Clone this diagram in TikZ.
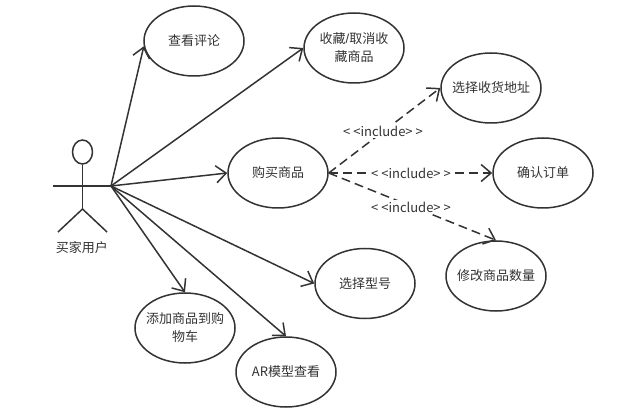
\documentclass[tikz,border=0pt]{standalone}
\usepackage{fontspec}
\setmainfont{Noto Sans CJK SC}
\newfontfamily\slashfont{Liberation Sans}
\usetikzlibrary{shapes.geometric,arrows.meta}
\definecolor{ink}{HTML}{333333}
\tikzset{
  usecase/.style={ellipse,draw=ink,line width=1.5pt,minimum width=100pt,minimum height=70pt,inner sep=-8pt,align=center,font=\fontsize{13}{18}\selectfont,text=ink},
  assoc/.style={draw=ink,line width=1.5pt,-{Straight Barb[length=10pt,width=17pt,line width=1.5pt]}},
  dep/.style={assoc,dash pattern=on 9pt off 5pt},
  inc/.style={fill=white,inner sep=1.5pt,font=\fontsize{13}{15}\selectfont,text=ink},
  limb/.style={draw=ink,line width=1.5pt},
  actorlabel/.style={font=\fontsize{13}{15}\selectfont,text=ink}
}
\newcommand{\incl}{<\kern3pt<include>\kern3pt>}
\begin{document}
\begin{tikzpicture}[x=1pt,y=-1pt]
\useasboundingbox (0,0) rectangle (627,414);
\node[usecase] (view) at (194,41) {查看评论};
\node[usecase] (fav) at (354,48) {收藏{\slashfont /}取消收\\藏商品};
\node[usecase] (addr) at (491,88) {选择收货地址};
\node[usecase] (buy) at (278,173) {购买商品};
\node[usecase] (confirm) at (543,173) {确认订单};
\node[usecase] (qty) at (496,276) {修改商品数量};
\node[usecase] (model) at (365,283.5) {选择型号};
\node[usecase] (cart) at (185,328) {添加商品到购\\物车};
\node[usecase] (ar) at (286,372) {AR模型查看};
% actor
\node[ellipse,draw=ink,line width=1.5pt,minimum width=20pt,minimum height=24pt,inner sep=0pt] (head) at (82.5,152) {};
\coordinate (hip) at (82.5,209);
\coordinate (armL) at (53,186);
\coordinate (hand) at (111,186);
\coordinate (footL) at (58,232);
\coordinate (footR) at (107,232);
\node[actorlabel] (actor) at (82,248) {买家用户};
\draw[limb] (head.south) -- (hip);
\draw[limb] (armL) -- (hand);
\draw[limb] (footL) -- (hip) -- (footR);
% associations
\draw[assoc] (hand) -- (view.186);
\draw[assoc] (hand) -- (fav.west);
\draw[assoc] (hand) -- (buy.west);
\draw[assoc] (hand) -- (model.west);
\draw[assoc] (hand) -- (cart.north);
\draw[assoc] (hand) -- (ar.north);
% includes
\draw[dep] (buy.east) -- (addr.west);
\draw[dep] (buy.east) -- (confirm.west);
\draw[dep] (buy.east) -- (qty.north);
\node[inc] (l1) at (383,131) {\incl};
\node[inc] (l2) at (411,173) {\incl};
\node[inc] (l3) at (411,207) {\incl};
\end{tikzpicture}
\end{document}
